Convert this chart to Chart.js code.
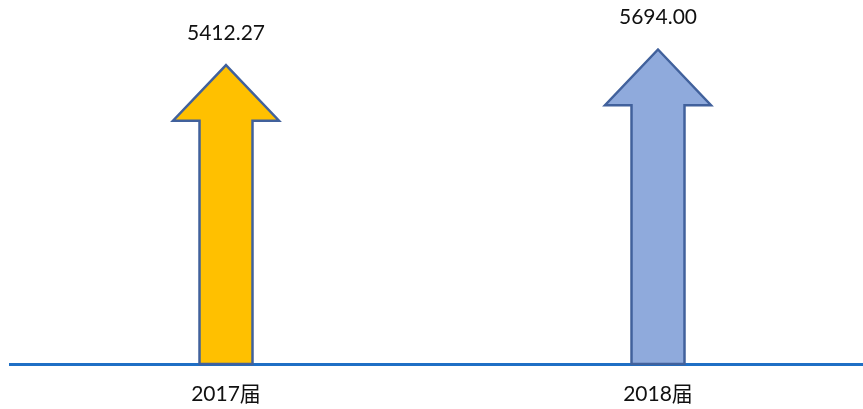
<!DOCTYPE html>
<html>
<head>
<meta charset="utf-8">
<script src="https://cdn.jsdelivr.net/npm/chart.js@4"></script>
<style>
html,body{margin:0;padding:0;background:#fff;overflow:hidden;}
#wrap{width:874px;height:409px;position:relative;}
</style>
</head>
<body>
<div id="wrap"><canvas id="c"></canvas></div>
<script>
const categories = ['2017届', '2018届'];
const values = [5412.27, 5694.00];
const valueLabels = ['5412.27', '5694.00'];
const fills = ['#FFC000', '#8FAADC'];

const FONT = "Lato, 'Noto Sans CJK SC', sans-serif";

const arrowPlugin = {
  id: 'arrows',
  afterDatasetsDraw(chart) {
    const ctx = chart.ctx;
    const meta = chart.getDatasetMeta(0);
    meta.data.forEach((bar, i) => {
      const p = bar.getProps(['x', 'y', 'base', 'width'], true);
      const half = p.width / 2;
      const headHalf = p.width * 1.0;
      const headH = p.width * 1.05;
      const x = p.x, top = p.y, base = p.base;
      ctx.save();
      ctx.beginPath();
      ctx.moveTo(x, top);
      ctx.lineTo(x + headHalf, top + headH);
      ctx.lineTo(x + half, top + headH);
      ctx.lineTo(x + half, base);
      ctx.lineTo(x - half, base);
      ctx.lineTo(x - half, top + headH);
      ctx.lineTo(x - headHalf, top + headH);
      ctx.closePath();
      ctx.fillStyle = fills[i];
      ctx.fill();
      ctx.lineWidth = 2.5;
      ctx.strokeStyle = '#41619C';
      ctx.lineJoin = 'miter';
      ctx.stroke();
      ctx.fillStyle = '#111';
      ctx.font = "21px " + FONT;
      ctx.textAlign = 'center';
      ctx.textBaseline = 'middle';
      ctx.fillText(valueLabels[i], x, top - 32);
      ctx.restore();
    });
  }
};

new Chart(document.getElementById('c'), {
  type: 'bar',
  data: {
    labels: categories,
    datasets: [{
      data: values,
      backgroundColor: 'rgba(0,0,0,0)',
      borderWidth: 0,
      barThickness: 53
    }]
  },
  options: {
    responsive: true,
    maintainAspectRatio: false,
    animation: false,
    layout: { padding: { left: 10, right: 0, top: 0, bottom: 0 } },
    plugins: { legend: { display: false }, tooltip: { enabled: false } },
    scales: {
      x: {
        z: 1,
        grid: { display: false, drawTicks: false },
        border: { display: true, color: '#1F6FC5', width: 3 },
        ticks: { color: '#111', font: { size: 21, family: FONT }, padding: 18, maxRotation: 0 },
        afterFit: (s) => { s.height = 45; }
      },
      y: {
        display: false,
        min: 0,
        max: 6590
      }
    }
  },
  plugins: [arrowPlugin]
});
</script>
</body>
</html>
